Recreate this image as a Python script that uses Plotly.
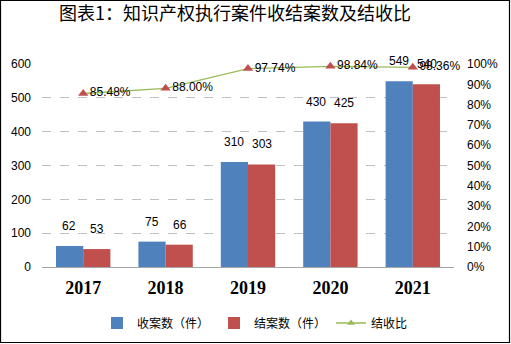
import plotly.graph_objects as go

years = ["2017", "2018", "2019", "2020", "2021"]
received = [62, 75, 310, 430, 549]
closed = [53, 66, 303, 425, 540]
ratio = [0.8548, 0.8800, 0.9774, 0.9884, 0.9836]
ratio_labels = ["85.48%", "88.00%", "97.74%", "98.84%", "98.36%"]
left_ticks = [0, 100, 200, 300, 400, 500, 600]
title_text = "图表1：知识产权执行案件收结案数及结收比"

W, H = 511, 344
L, R, T, B = 42, 57, 64, 77
pw, ph = W - L - R, H - T - B

BLUE = "#4F81BD"
RED = "#C0504D"
GREEN = "#9BBB59"
num_font = "Liberation Sans, Arial, sans-serif"
cjk_font = "Noto Sans CJK SC, sans-serif"

fig = go.Figure()
fig.add_trace(go.Bar(x=years, y=received, name="收案数（件）", marker_color=BLUE,
                     marker_line_width=0))
fig.add_trace(go.Bar(x=years, y=closed, name="结案数（件）", marker_color=RED,
                     marker_line_width=0))
fig.add_trace(go.Scatter(x=years, y=ratio, yaxis="y2", mode="lines+markers+text",
                         line=dict(color=GREEN, width=1.3),
                         marker=dict(symbol="triangle-up", size=9, color=RED),
                         text=ratio_labels, textposition="middle right",
                         textfont=dict(family=num_font, size=12, color="#000"),
                         showlegend=False, cliponaxis=False))
fig.add_trace(go.Scatter(x=[years[0]], y=[None], yaxis="y2", mode="lines+markers",
                         name="结收比", line=dict(color=GREEN, width=1.3),
                         marker=dict(symbol="triangle-up", size=7, color=GREEN)))

for series, shift in ((received, -14), (closed, 14)):
    for i, v in enumerate(series):
        fig.add_annotation(x=i, y=v, xref="x", yref="y", text=str(v), showarrow=False,
                           xshift=shift, yshift=11, yanchor="bottom",
                           font=dict(family=num_font, size=12, color="#000"))

# outer frame
def px2x(p):
    return (p - L) / pw

def py2y(p):
    return (H - B - p) / ph

fig.add_shape(type="rect", xref="paper", yref="paper",
              x0=px2x(0.5), x1=px2x(509.5), y0=py2y(342.5), y1=py2y(0.5),
              line=dict(color="#000", width=1.2), fillcolor="rgba(0,0,0,0)")

fig.update_layout(
    width=W, height=H,
    margin=dict(l=L, r=R, t=T, b=B, autoexpand=False),
    paper_bgcolor="white", plot_bgcolor="white",
    barmode="group", bargap=0.34, bargroupgap=0,
    title=dict(text=title_text, x=235 / W, xanchor="center", xref="container",
               y=1 - 14 / H, yanchor="middle", yref="container",
               font=dict(family=cjk_font, size=18, color="#000")),
    xaxis=dict(type="category", categoryorder="array", categoryarray=years,
               range=[-0.5, len(years) - 0.5],
               showgrid=False, showline=True, linecolor="#A6A6A6",
               linewidth=1, ticks="", ticklabelstandoff=4,
               tickfont=dict(family="Liberation Serif, Times New Roman, serif", size=18,
                             color="#000", weight="bold")),
    yaxis=dict(range=[0, 600], tickvals=left_ticks, showgrid=True, gridcolor="#BFBFBF",
               griddash="dash", gridwidth=1, zeroline=False, showline=False, ticks="",
               ticklabelstandoff=10,
               tickfont=dict(family=num_font, size=12, color="#000")),
    yaxis2=dict(range=[0, 1], dtick=0.1, tickformat=".0%", overlaying="y", side="right",
                showgrid=False, zeroline=False, showline=False, ticks="",
                ticklabelstandoff=12,
                tickfont=dict(family=num_font, size=12, color="#000")),
    legend=dict(orientation="h", x=255 / W, xref="container", xanchor="center",
                y=1 - 323 / H, yref="container", yanchor="middle",
                font=dict(family=cjk_font, size=12, color="#000"),
                itemwidth=30, traceorder="normal"),
    showlegend=True,
)

fig.write_html("out.html")
